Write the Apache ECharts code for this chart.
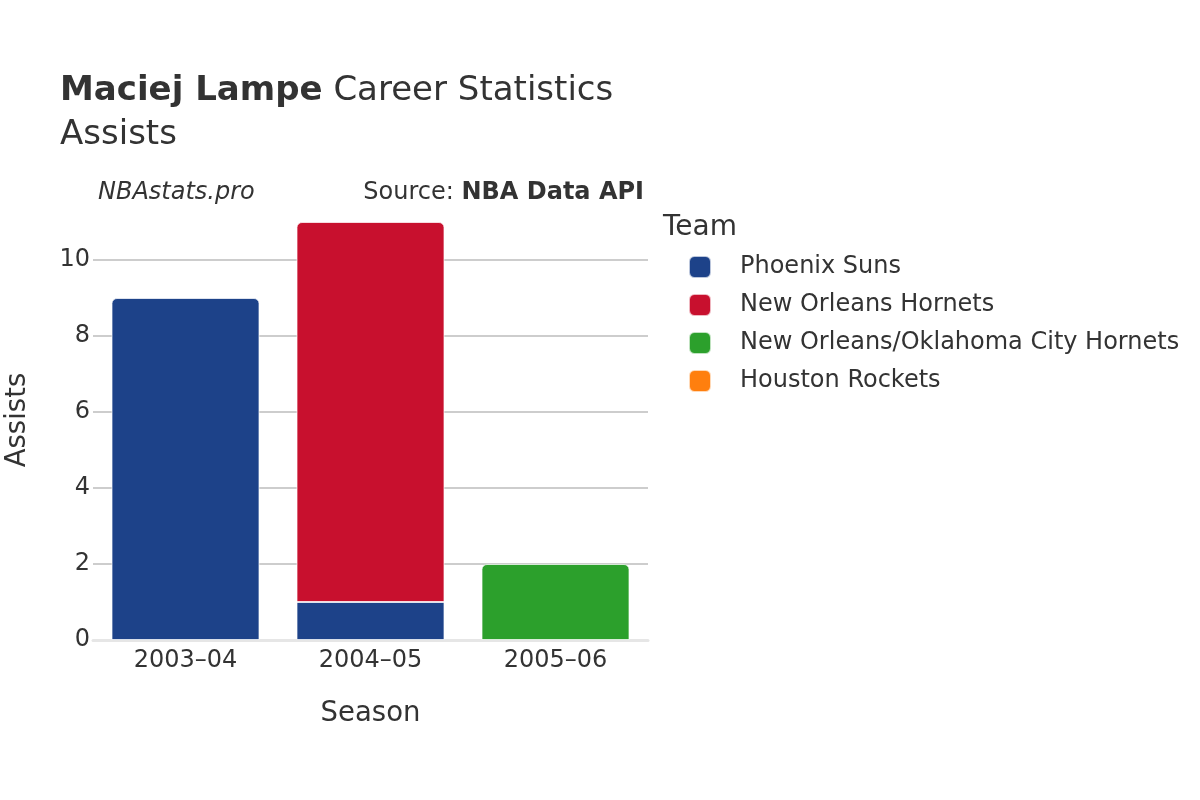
<!DOCTYPE html>
<html><head><meta charset="utf-8">
<script src="https://cdn.jsdelivr.net/npm/echarts@6/dist/echarts.min.js"></script>
<style>html,body{margin:0;padding:0;background:#fff}#c{width:1200px;height:800px}</style>
</head><body><div id="c"></div>
<script>
const seasons = ['2003–04', '2004–05', '2005–06'];
const teams = ['Phoenix Suns', 'New Orleans Hornets', 'New Orleans/Oklahoma City Hornets', 'Houston Rockets'];
const colors = ['#1d4289', '#c8102e', '#2ca02c', '#ff7f0e'];
const phoenixSuns = [9, 1, null];
const newOrleansHornets = [null, 10, null];
const noOkcHornets = [null, null, 2];
const houstonRockets = [null, null, null];
const yTicks = [0, 2, 4, 6, 8, 10];

const seriesValues = [phoenixSuns, newOrleansHornets, noOkcHornets, houstonRockets];
function isTop(si, ci) {
  for (let k = si + 1; k < seriesValues.length; k++) if (seriesValues[k][ci] != null) return false;
  return true;
}
const font = 'DejaVu Sans';
const txt = '#333';
const chart = echarts.init(document.getElementById('c'));
chart.setOption({
  animation: false,
  textStyle: { fontFamily: font },
  title: {
    left: 55, top: 64,
    text: '{b|Maciej Lampe}{n| Career Statistics}\n{n|Assists}',
    textStyle: {
      fontFamily: font, fontWeight: 'normal',
      rich: {
        b: { fontFamily: font, fontSize: 34, fontWeight: 'bold', color: txt, lineHeight: 44 },
        n: { fontFamily: font, fontSize: 34, fontWeight: 'normal', color: txt, lineHeight: 44 }
      }
    }
  },
  graphic: [
    { type: 'text', left: 98, top: 181, style: { text: 'NBAstats.pro', font: 'italic 24px "DejaVu Sans"', fill: txt } },
    { type: 'text', right: 556, top: 181, style: {
      rich: { n: { fontFamily: font, fontSize: 24, fill: txt }, b: { fontFamily: font, fontSize: 24, fontWeight: 'bold', fill: txt } },
      text: '{n|Source: }{b|NBA Data API}' } },
    { type: 'text', left: 663, top: 214, style: { text: 'Team', font: '28px "DejaVu Sans"', fill: txt } },
    { type: 'text', x: 18, y: 420, rotation: Math.PI / 2, style: { text: 'Assists', font: '27.5px "DejaVu Sans"', fill: txt, align: 'center', verticalAlign: 'middle' } }
  ],
  legend: {
    orient: 'vertical', left: 683, top: 250,
    itemWidth: 22, itemHeight: 22, itemGap: 14,
    icon: 'roundRect',
    data: teams,
    textStyle: { fontFamily: font, fontSize: 24, color: txt, padding: [0, 0, 0, 24] }
  },
  grid: { left: 93, right: 552, top: 184, bottom: 160 },
  xAxis: {
    type: 'category', data: seasons,
    name: 'Season', nameLocation: 'middle', nameGap: 60,
    nameTextStyle: { fontFamily: font, fontSize: 27.5, color: txt },
    axisLine: { show: true, lineStyle: { color: '#e6e6e6', width: 3 } },
    axisTick: { show: false },
    axisLabel: { fontFamily: font, fontSize: 24, color: txt, margin: 9 }
  },
  yAxis: {
    type: 'value', min: 0, max: 12, interval: 2,
    axisLine: { show: false }, axisTick: { show: false },
    axisLabel: { fontFamily: font, fontSize: 24, color: txt, margin: 3, padding: [3, 0, 0, 0], showMaxLabel: false,
      formatter: v => yTicks.includes(v) ? String(v) : '' },
    splitLine: { showMaxLine: false, showMinLine: false, lineStyle: { color: '#bdbdbd', width: 1.5 } }
  },
  series: teams.map((t, si) => ({
    name: t, type: 'bar', stack: 'total', barCategoryGap: '20%',
    itemStyle: { color: colors[si], borderColor: 'rgba(255,255,255,0.7)', borderWidth: 1 },
    data: seriesValues[si].map((v, ci) => v == null ? null : {
      value: v,
      itemStyle: { borderRadius: isTop(si, ci) ? [5, 5, 0, 0] : 0 }
    })
  }))
});
</script></body></html>
